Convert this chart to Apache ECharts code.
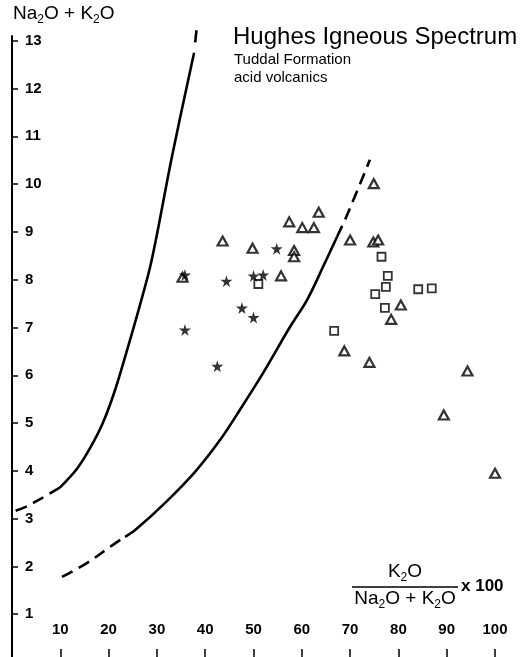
<!DOCTYPE html>
<html>
<head>
<meta charset="utf-8">
<script src="https://cdn.jsdelivr.net/npm/echarts@6/dist/echarts.min.js"></script>
<style>html,body{margin:0;padding:0;background:#fff}#c{width:529px;height:657px}</style>
</head>
<body>
<div id="c"></div>
<script>
// ---- data ----
var xTicks = [10, 20, 30, 40, 50, 60, 70, 80, 90, 100];
var yTicks = [1, 2, 3, 4, 5, 6, 7, 8, 9, 10, 11, 12, 13];

var triangles = [
  [43.6, 8.81], [49.8, 8.66], [57.4, 9.21], [60.1, 9.09], [62.5, 9.09], [63.5, 9.41],
  [58.4, 8.61], [58.4, 8.48], [55.7, 8.08], [35.3, 8.05], [70.0, 8.83], [74.9, 10.01],
  [74.8, 8.79], [75.8, 8.83], [80.5, 7.47], [78.5, 7.17], [68.8, 6.51], [74.0, 6.27],
  [94.3, 6.09], [89.4, 5.17], [100.0, 3.95]
];
var stars = [
  [35.8, 6.95], [42.5, 6.19], [44.4, 7.97], [47.6, 7.41], [50.0, 7.21],
  [50.0, 8.08], [52.0, 8.10], [54.8, 8.65], [35.8, 8.10]
];
var squares = [
  [51.0, 7.91], [66.7, 6.93], [76.5, 8.48], [77.8, 8.08], [77.4, 7.85],
  [75.2, 7.70], [84.1, 7.80], [86.9, 7.82], [77.2, 7.41]
];

// boundary curves
var leftTopDash = [[38.2, 13.22], [37.9, 12.95]];
var leftSolid = [[37.7, 12.75], [33.1, 10.57], [28.9, 8.40], [26.3, 7.40], [23.6, 6.45],
  [21.2, 5.65], [18.8, 5.00], [16.3, 4.50], [13.5, 4.05], [9.9, 3.65]];
var leftLowDash = [[9.9, 3.65], [6.0, 3.42], [2.7, 3.24], [-2.5, 3.05]];

var rightLowDash = [[10.35, 1.78], [15.5, 2.07], [20.3, 2.41], [23.4, 2.62]];
var rightSolid = [[23.4, 2.62], [25.5, 2.76], [31.7, 3.33], [37.9, 3.98], [43.1, 4.65],
  [47.2, 5.28], [52.0, 6.05], [57.6, 7.02], [61.1, 7.58], [64.4, 8.27], [67.3, 8.90]];
var rightTopDash = [[67.3, 8.90], [69.4, 9.36], [74.1, 10.51]];

var titleText = 'Hughes Igneous Spectrum';
var subText1 = 'Tuddal Formation';
var subText2 = 'acid volcanics';

// ---- chart ----
var STAR = 'path://M50,0 L61,35 L98,35 L68,57 L79,91 L50,70 L21,91 L32,57 L2,35 L39,35 Z';
var FONT = '"Liberation Sans", Arial, Helvetica, sans-serif';

function lineSeries(data, dashed) {
  return {
    type: 'line', data: data, smooth: 0.35, symbol: 'none', clip: false, silent: true,
    lineStyle: { color: '#000', width: 2.6, type: dashed ? [12, 7] : 'solid', cap: 'butt' },
    z: 2
  };
}

var rich = {
  a: { fontSize: 19, lineHeight: 24, fontFamily: FONT, color: '#000' },
  s: { fontSize: 12, lineHeight: 12, fontFamily: FONT, color: '#000', verticalAlign: 'bottom' }
};
var naK = '{a|Na}{s|2}{a|O + K}{s|2}{a|O}';

var chart = echarts.init(document.getElementById('c'), null, { renderer: 'canvas' });
chart.setOption({
  animation: false,
  backgroundColor: '#fff',
  grid: { left: 12, top: 36, width: 512, height: 626, containLabel: false, outerBoundsMode: 'none' },
  xAxis: {
    type: 'value', min: 0, max: 106, offset: -5,
    splitLine: { show: false },
    axisLine: { show: true, lineStyle: { color: '#999', width: 1 } },
    axisTick: { show: true, inside: true, length: 8, customValues: xTicks, lineStyle: { color: '#000', width: 1.5 } },
    axisLabel: { show: true, inside: true, margin: 20, customValues: xTicks, color: '#000',
      fontSize: 15, fontWeight: 'bold', fontFamily: FONT }
  },
  yAxis: {
    type: 'value', min: 0, max: 13.1,
    splitLine: { show: false },
    axisLine: { show: true, onZero: false, lineStyle: { color: '#000', width: 2 } },
    axisTick: { show: true, inside: true, length: 6, customValues: yTicks, lineStyle: { color: '#000', width: 1.5 } },
    axisLabel: { show: true, inside: true, margin: 13, customValues: yTicks, color: '#000',
      fontSize: 15, fontWeight: 'bold', fontFamily: FONT }
  },
  series: [
    lineSeries(leftTopDash, true),
    lineSeries(leftSolid, false),
    lineSeries(leftLowDash, true),
    lineSeries(rightLowDash, true),
    lineSeries(rightSolid, false),
    lineSeries(rightTopDash, true),
    {
      type: 'scatter', data: triangles, symbol: 'triangle', symbolSize: [10, 9],
      itemStyle: { color: '#fff', borderColor: '#000', borderWidth: 2.2 }, z: 5
    },
    {
      type: 'scatter', data: stars, symbol: STAR, symbolSize: 12,
      itemStyle: { color: '#000' }, z: 6
    },
    {
      type: 'scatter', data: squares, symbol: 'rect', symbolSize: 8,
      itemStyle: { color: '#fff', borderColor: '#000', borderWidth: 1.8 }, z: 4
    }
  ],
  graphic: [
    { type: 'text', x: 13, y: 14, style: { text: naK, rich: rich, verticalAlign: 'middle', align: 'left' } },
    { type: 'text', x: 233, y: 37, style: { text: titleText, font: '24px ' + FONT, fill: '#000', verticalAlign: 'middle', align: 'left' } },
    { type: 'text', x: 234, y: 60, style: { text: subText1, font: '15px ' + FONT, fill: '#000', verticalAlign: 'middle', align: 'left' } },
    { type: 'text', x: 234, y: 78, style: { text: subText2, font: '15px ' + FONT, fill: '#000', verticalAlign: 'middle', align: 'left' } },
    { type: 'text', x: 405, y: 572, style: { text: '{a|K}{s|2}{a|O}', rich: rich, verticalAlign: 'middle', align: 'center' } },
    { type: 'line', shape: { x1: 352, y1: 587, x2: 458, y2: 587 }, style: { stroke: '#000', lineWidth: 1.5 } },
    { type: 'text', x: 405, y: 599, style: { text: naK, rich: rich, verticalAlign: 'middle', align: 'center' } },
    { type: 'text', x: 461, y: 586, style: { text: 'x 100', font: 'bold 17px ' + FONT, fill: '#000', verticalAlign: 'middle', align: 'left' } }
  ]
});
</script>
</body>
</html>
